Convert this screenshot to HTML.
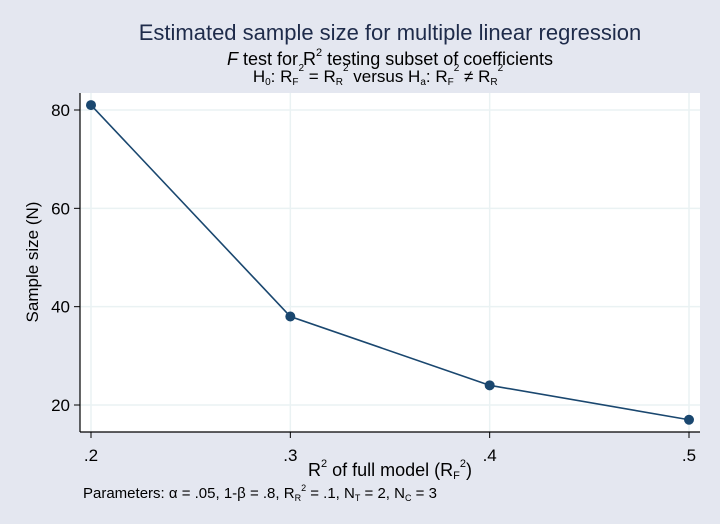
<!DOCTYPE html>
<html><head><meta charset="utf-8"><style>
body{margin:0;background:#e4e7f0;}
svg{display:block;font-family:"Liberation Sans",sans-serif;}
</style></head><body>
<svg width="720" height="524" viewBox="0 0 720 524">
<rect width="720" height="524" fill="#e4e7f0"/>
<rect x="80" y="93" width="620" height="339" fill="#fff"/>
<g id="grid"></g>
<line x1="80" y1="93" x2="80" y2="432" stroke="#000" stroke-width="1.2"/>
<line x1="80" y1="432" x2="700" y2="432" stroke="#000" stroke-width="1.2"/>
<g id="ticks" font-size="17" fill="#000"></g>
<g id="series"></g>
<text x="390" y="40" text-anchor="middle" font-size="22" fill="#1e2b4a">Estimated sample size for multiple linear regression</text>
<text x="390" y="65" text-anchor="middle" font-size="18"><tspan font-style="italic">F</tspan> test for R<tspan font-size="11" dy="-9">2</tspan><tspan dy="9"> testing subset of coefficients</tspan></text>
<text x="378" y="82" text-anchor="middle" font-size="17">H<tspan font-size="10" dy="3">0</tspan><tspan dy="-3">: R</tspan><tspan font-size="10" dy="3">F</tspan><tspan font-size="10" dy="-14">2</tspan><tspan dy="11"> = R</tspan><tspan font-size="10" dy="3">R</tspan><tspan font-size="10" dy="-14">2</tspan><tspan dy="11">   versus  H</tspan><tspan font-size="10" dy="3">a</tspan><tspan dy="-3">: R</tspan><tspan font-size="10" dy="3">F</tspan><tspan font-size="10" dy="-14">2</tspan><tspan dy="11"> ≠ R</tspan><tspan font-size="10" dy="3">R</tspan><tspan font-size="10" dy="-14">2</tspan></text>
<text x="38" y="262" text-anchor="middle" font-size="17" transform="rotate(-90 38 262)">Sample size (N)</text>
<text x="390" y="476" text-anchor="middle" font-size="18">R<tspan font-size="11" dy="-9">2</tspan><tspan dy="9"> of full model (R</tspan><tspan font-size="11" dy="3">F</tspan><tspan font-size="11" dy="-12">2</tspan><tspan dy="9">)</tspan></text>
<text x="83" y="498" font-size="15">Parameters: α = .05, 1-β = .8, R<tspan font-size="9" dy="3">R</tspan><tspan font-size="9" dy="-10">2</tspan><tspan dy="7"> = .1, N</tspan><tspan font-size="9" dy="3">T</tspan><tspan dy="-3"> = 2, N</tspan><tspan font-size="9" dy="3">C</tspan><tspan dy="-3"> = 3</tspan></text>
</svg>
<script>
const categories=[0.2,0.3,0.4,0.5];
const sampleSize=[81,38,24,17];
const xTicks=[0.2,0.3,0.4,0.5];
const xTickLabels=[".2",".3",".4",".5"];
const yTicks=[20,40,60,80];
const ns="http://www.w3.org/2000/svg";
const xs=v=>91+(v-0.2)/0.3*(689-91);
const ys=v=>405-(v-20)*(295/60);
function mk(t,a,p){const e=document.createElementNS(ns,t);for(const k in a)e.setAttribute(k,a[k]);p.appendChild(e);return e;}
const g=document.getElementById('grid'),tk=document.getElementById('ticks'),s=document.getElementById('series');
xTicks.forEach((v,i)=>{
 const l=mk('line',{x1:xs(v),x2:xs(v),y1:93,y2:432,stroke:'#eaf2f3','stroke-width':1.5},g);
 
 
 const t=mk('line',{x1:xs(v),x2:xs(v),y1:432,y2:438,stroke:'#000'},tk);
 
 
 const tx=mk('text',{x:xs(v),y:461,'text-anchor':'middle'},tk);tx.textContent=xTickLabels[i];
 
 
});
yTicks.forEach(v=>{
 const l=mk('line',{x1:80,x2:700,y1:ys(v),y2:ys(v),stroke:'#eaf2f3','stroke-width':1.5},g);
 
 
 const t=mk('line',{x1:74,x2:80,y1:ys(v),y2:ys(v),stroke:'#000'},tk);
 
 
 const tx=mk('text',{x:70,y:ys(v)+6,'text-anchor':'end'},tk);tx.textContent=v;
 
 
});
const pl=mk('polyline',{points:categories.map((c,i)=>xs(c)+','+ys(sampleSize[i])).join(' '),fill:'none',stroke:'#1a476f','stroke-width':1.6},s);


categories.forEach((c,i)=>{
 const p=mk('circle',{cx:xs(c),cy:ys(sampleSize[i]),r:5,fill:'#1a476f'},s);
 
 
});
</script>
</body></html>
